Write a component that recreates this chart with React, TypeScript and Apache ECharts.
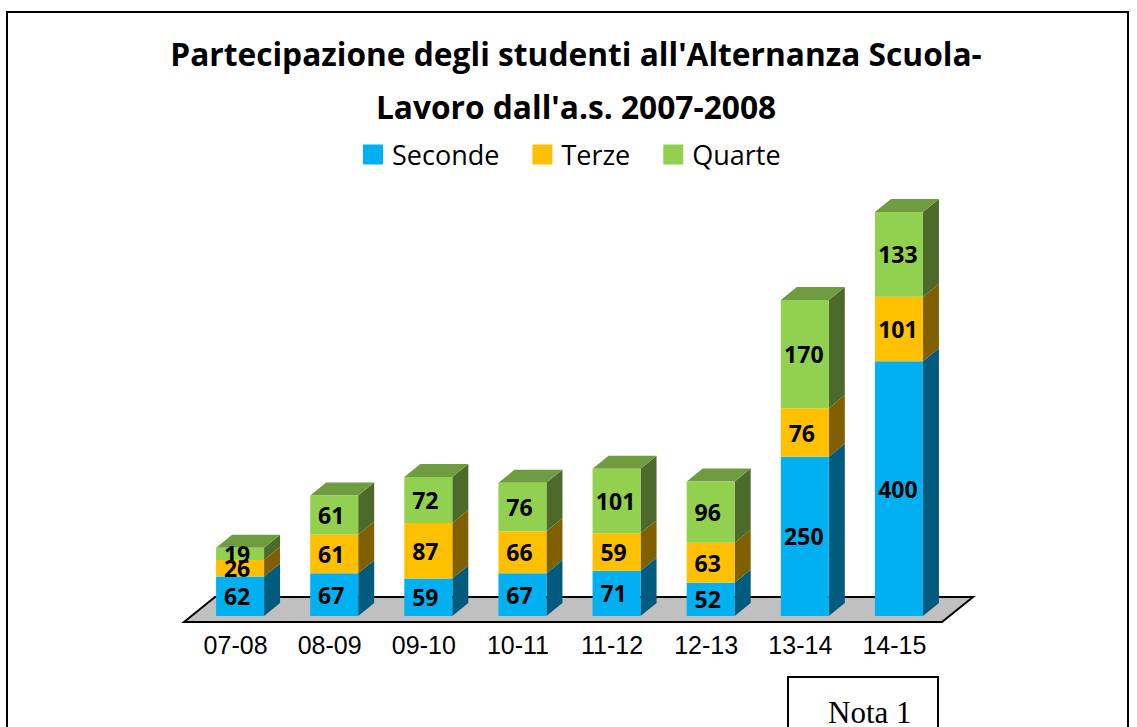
import React, { useEffect, useRef } from "react";
import * as echarts from "echarts";

const categories = ["07-08", "08-09", "09-10", "10-11", "11-12", "12-13", "13-14", "14-15"];
const seconde = [62, 67, 59, 67, 71, 52, 250, 400];
const terze = [26, 61, 87, 66, 59, 63, 76, 101];
const quarte = [19, 61, 72, 76, 101, 96, 170, 133];
const titleText = "Partecipazione degli studenti all'Alternanza Scuola-\nLavoro dall'a.s. 2007-2008";
const noteText = "Nota 1";

const BODY = "'Open Sans', 'Noto Sans', sans-serif";
const BAR_W = 48;
const DX = 16;
const DY = 13;

const faces: Record<string, [string, string, string]> = {
  Seconde: ["#00B0F0", "#005B7E", "#00B0F0"],
  Terze: ["#FFC000", "#806000", "#FFC000"],
  Quarte: ["#92D050", "#4C6A2A", "#6F9C40"],
};

const stacks: [string, number[]][] = [
  ["Seconde", seconde],
  ["Terze", terze],
  ["Quarte", quarte],
];

function sideSeries(name: string, values: number[], below: number[], isTop: boolean) {
  const colors = faces[name];
  return {
    type: "custom",
    silent: true,
    z: 1,
    data: values.map((v, i) => [i, below[i], below[i] + v]),
    encode: { x: 0, y: [1, 2] },
    renderItem: (_p: any, api: any) => {
      const hi = api.coord([api.value(0), api.value(2)]);
      const lo = api.coord([api.value(0), api.value(1)]);
      const x = hi[0] + BAR_W / 2;
      const children: any[] = [
        {
          type: "polygon",
          shape: { points: [[x, hi[1]], [x + DX, hi[1] - DY], [x + DX, lo[1] - DY], [x, lo[1]]] },
          style: { fill: colors[1] },
        },
      ];
      if (isTop) {
        children.push({
          type: "polygon",
          shape: {
            points: [
              [x - BAR_W, hi[1]],
              [x - BAR_W + DX, hi[1] - DY],
              [x + DX, hi[1] - DY],
              [x, hi[1]],
            ],
          },
          style: { fill: colors[2] },
        });
      }
      return { type: "group", children };
    },
  };
}

function buildOption() {
  const below = categories.map(() => 0);
  const sides: any[] = [];
  const bars: any[] = [];
  stacks.forEach(([name, values], idx) => {
    sides.push(sideSeries(name, values, [...below], idx === stacks.length - 1));
    values.forEach((v, i) => (below[i] += v));
    bars.push({
      name,
      type: "bar",
      stack: "total",
      barWidth: BAR_W,
      z: 2,
      itemStyle: { color: faces[name][0] },
      data: values.map((v) => ({
        value: v,
        label: { offset: [v >= 100 ? -1 : -3, 0] },
      })),
      label: {
        show: true,
        position: "inside",
        color: "#000",
        fontFamily: BODY,
        fontWeight: "bold",
        fontSize: 23,
      },
    });
  });
  return {
    animation: false,
    backgroundColor: "#fff",
    title: {
      text: titleText,
      left: 571,
      top: 22,
      textAlign: "center",
      textStyle: { fontFamily: BODY, fontWeight: "bold", fontSize: 31.7, lineHeight: 53, color: "#000" },
    },
    legend: {
      data: stacks.map((s) => s[0]),
      left: 358,
      top: 136,
      itemWidth: 20,
      itemHeight: 20,
      itemGap: 33,
      icon: "rect",
      textStyle: { fontFamily: BODY, fontSize: 27, color: "#000", padding: [0, 0, 0, 4] },
    },
    grid: { left: 193, width: 753, top: 170, bottom: 111 },
    xAxis: {
      type: "category",
      data: categories,
      axisLine: { show: false },
      axisTick: { show: false },
      axisLabel: {
        color: "#000",
        fontFamily: "'Liberation Sans', Arial, sans-serif",
        fontSize: 25,
        margin: 16,
        padding: [0, 9, 0, 0],
        interval: 0,
      },
    },
    yAxis: { type: "value", min: 0, max: 700, interval: 100, show: false },
    graphic: [
      {
        type: "rect",
        z: 0,
        shape: { x: 7, y: 12, width: 1121, height: 730 },
        style: { fill: "#fff", stroke: "#000", lineWidth: 2 },
      },
      {
        type: "polygon",
        z: 1,
        shape: { points: [[184, 622], [215, 597], [973, 597], [942, 622]] },
        style: { fill: "#C0C0C0", stroke: "#000", lineWidth: 2 },
      },
      {
        type: "rect",
        z: 1,
        shape: { x: 788, y: 677, width: 150, height: 70 },
        style: { fill: "#fff", stroke: "#000", lineWidth: 2 },
      },
      {
        type: "text",
        z: 2,
        x: 828,
        y: 698,
        style: { text: noteText, fontFamily: "'Liberation Serif', serif", fontSize: 31, lineHeight: 28, fill: "#000" },
      },
    ],
    series: [...sides, ...bars],
  };
}

export default function App() {
  const ref = useRef<HTMLDivElement>(null);
  useEffect(() => {
    document.body.style.margin = "0";
    const chart = echarts.init(ref.current!, undefined, { renderer: "svg" });
    chart.setOption(buildOption() as any);
    return () => chart.dispose();
  }, []);
  return <div ref={ref} style={{ width: 1137, height: 727, overflow: "hidden" }} />;
}
